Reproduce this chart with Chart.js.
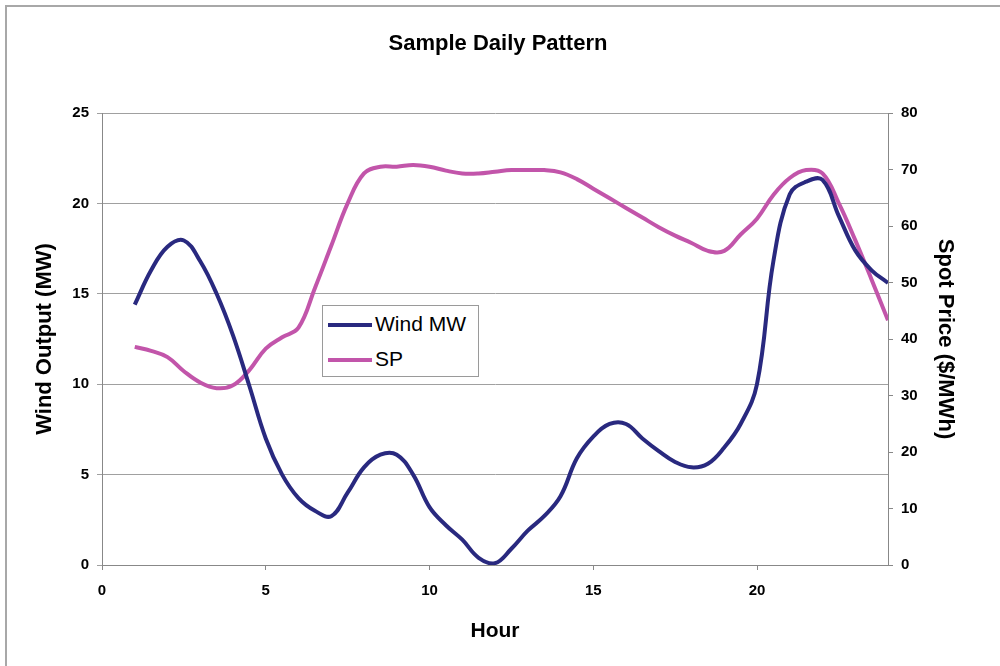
<!DOCTYPE html>
<html>
<head>
<meta charset="utf-8">
<script src="https://cdn.jsdelivr.net/npm/chart.js@4.4.1/dist/chart.umd.min.js"></script>
<style>
  html, body { margin: 0; padding: 0; background: #fff; }
  #wrap { position: relative; width: 1000px; height: 666px; overflow: hidden; }
  #frame { position: absolute; left: 5px; top: 5px; width: 1100px; height: 800px;
           border-left: 2px solid #a8a8a8; border-top: 2px solid #a8a8a8; }
  #legend { position: absolute; left: 322px; top: 305px; width: 157px; height: 72px;
            border: 1px solid #9a9a9a; background: #fff; box-sizing: border-box;
            font-family: "Liberation Sans", Arial, sans-serif; font-size: 21px; color: #000; }
  .row { position: absolute; left: 5px; height: 26px; line-height: 26px; white-space: nowrap; }
  .row i { display: inline-block; width: 44px; height: 4px; vertical-align: middle; margin-right: 3px; }
</style>
</head>
<body>
<div id="wrap">
  <div id="frame"></div>
  <canvas id="c" width="1000" height="666"></canvas>
  <div id="legend"></div>
</div>
<script>
var hours = [1, 1.5, 2, 2.5, 3, 3.5, 4, 4.5, 5, 5.5, 6, 6.5, 7, 7.5, 8, 8.5, 9, 9.5, 10, 10.5,
             11, 11.5, 12, 12.5, 13, 13.5, 14, 14.5, 15, 15.5, 16, 16.5, 17, 17.5, 18, 18.5,
             19, 19.5, 20, 20.5, 21, 21.5, 22, 22.5, 23, 23.5, 24];
var windMW = [14.4, 16.3, 17.6, 17.95, 16.8, 15.0, 12.7, 9.9, 7.0, 5.0, 3.7, 3.0, 2.7, 4.0, 5.4, 6.1,
              6.1, 5.0, 3.2, 2.2, 1.4, 0.4, 0.1, 0.9, 1.9, 2.7, 3.8, 5.9, 7.1, 7.8, 7.8, 7.0,
              6.3, 5.7, 5.4, 5.6, 6.5, 7.8, 10.0, 16.8, 20.5, 21.2, 21.3, 19.3, 17.4, 16.3, 15.6];
var spotPrice = [38.6, 37.9, 36.8, 34.3, 32.3, 31.3, 31.8, 34.5, 38.3, 40.3, 42.0, 49.0, 56.5, 64.0,
                 69.3, 70.5, 70.5, 70.8, 70.5, 69.8, 69.3, 69.3, 69.6, 69.9, 69.9, 69.9, 69.5, 68.3,
                 66.6, 64.9, 63.2, 61.5, 59.8, 58.3, 57.0, 55.6, 55.6, 58.5, 61.3, 65.5, 68.5, 69.9,
                 69.3, 64.0, 57.5, 50.5, 43.3];
var xTicks = [0, 5, 10, 15, 20];
var seriesNames = ['Wind MW', 'SP'];
var seriesColors = ['#29297f', '#c255aa'];

function toPoints(ys) {
    return ys.map(function (y, i) { return { x: hours[i], y: y }; });
}

var font = "'Liberation Sans', Arial, sans-serif";
var tickFont = { family: font, size: 15, weight: 'bold' };

var chart = new Chart(document.getElementById('c').getContext('2d'), {
    type: 'line',
    data: {
        datasets: [
            { label: seriesNames[0], data: toPoints(windMW), yAxisID: 'y',
              borderColor: seriesColors[0], borderWidth: 4, pointRadius: 0, tension: 0.4, fill: false },
            { label: seriesNames[1], data: toPoints(spotPrice), yAxisID: 'y2',
              borderColor: seriesColors[1], borderWidth: 4, pointRadius: 0, tension: 0.4, fill: false }
        ]
    },
    options: {
        responsive: false,
        animation: false,
        layout: { padding: { left: 28, right: 32, top: 0, bottom: 18 } },
        plugins: {
            legend: { display: false },
            tooltip: { enabled: false },
            title: {
                display: true,
                text: 'Sample Daily Pattern',
                color: '#000',
                font: { family: font, size: 22, weight: 'bold' },
                padding: { top: 31, bottom: 55.6 }
            }
        },
        scales: {
            x: {
                type: 'linear', min: 0, max: 24,
                afterBuildTicks: function (s) { s.ticks = xTicks.map(function (v) { return { value: v }; }); },
                afterFit: function (s) { s.height = 83; },
                grid: { drawOnChartArea: false, color: '#888', tickLength: 5 },
                border: { color: '#888' },
                ticks: { color: '#000', font: tickFont, padding: 12 },
                title: { display: true, text: 'Hour', color: '#000',
                         font: { family: font, size: 21, weight: 'bold' }, padding: { top: 8 } }
            },
            y: {
                position: 'left', min: 0, max: 25,
                afterFit: function (s) { s.width = 74; },
                grid: { color: '#a0a0a0', tickLength: 5 },
                border: { color: '#888' },
                ticks: { stepSize: 5, color: '#000', font: tickFont, padding: 8 },
                title: { display: true, text: 'Wind Output (MW)', color: '#000',
                         font: { family: font, size: 22, weight: 'bold' }, padding: { bottom: 10 } }
            },
            y2: {
                position: 'right', min: 0, max: 80,
                afterFit: function (s) { s.width = 80; },
                grid: { drawOnChartArea: false, color: '#888', tickLength: 5 },
                border: { color: '#888' },
                ticks: { stepSize: 10, color: '#000', font: tickFont, padding: 8 },
                title: { display: true, text: 'Spot Price ($/MWh)', color: '#000',
                         font: { family: font, size: 22, weight: 'bold' }, padding: { top: 10 } }
            }
        }
    }
});

var legend = document.getElementById('legend');
chart.data.datasets.forEach(function (ds, i) {
    var row = document.createElement('div');
    row.className = 'row';
    row.style.top = (5 + i * 35) + 'px';
    row.innerHTML = '<i style="background:' + ds.borderColor + '"></i>' + ds.label;
    legend.appendChild(row);
});
</script>
</body>
</html>
